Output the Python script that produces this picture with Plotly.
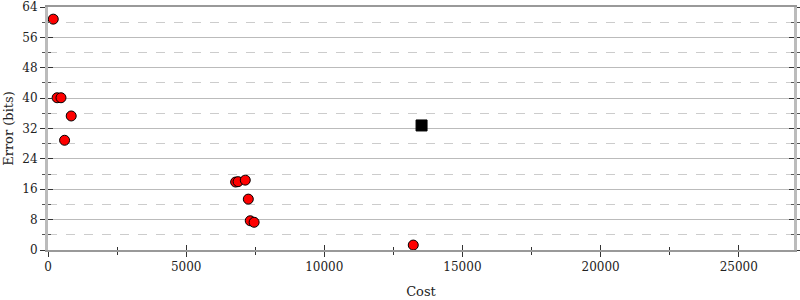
import plotly.graph_objects as go

cost_red = [190, 330, 470, 840, 600, 6790, 6880, 7140, 7250, 7320, 7460, 13220]
err_red = [60.8, 40.1, 40.1, 35.3, 28.9, 17.9, 18.0, 18.4, 13.4, 7.7, 7.3, 1.3]
cost_black = [13520]
err_black = [32.8]

x_tick_step = 5000
y_tick_step = 8

font = dict(family="DejaVu Serif", size=12, color="#222")
tfont = dict(family="DejaVu Serif", size=13, color="#222")

fig = go.Figure()
fig.add_trace(go.Scatter(x=cost_red, y=err_red, mode="markers",
                         marker=dict(color="#ff0000", size=10, line=dict(color="#000", width=1)),
                         showlegend=False))
fig.add_trace(go.Scatter(x=cost_black, y=err_black, mode="markers",
                         marker=dict(color="#000", symbol="square", size=11, line=dict(color="#000", width=1)),
                         showlegend=False))
fig.add_trace(go.Scatter(x=[0], y=[0], xaxis="x2", yaxis="y2", mode="markers",
                         marker=dict(opacity=0), showlegend=False, hoverinfo="skip"))

fig.update_layout(
    width=800, height=300,
    margin=dict(l=48, r=6, t=7, b=50),
    paper_bgcolor="white", plot_bgcolor="white",
    font=font,
    xaxis=dict(range=[0, 27000], tick0=0, dtick=x_tick_step, tickformat="d", showgrid=False, zeroline=False,
               showline=True, linecolor="#999", linewidth=2, mirror=True, automargin=False,
               ticks="outside", ticklen=5, tickcolor="#333", tickwidth=1,
               minor=dict(tick0=0, dtick=x_tick_step / 2, ticks="outside", ticklen=3, tickcolor="#333", showgrid=False),
               title=dict(text="Cost", font=tfont, standoff=13), tickfont=font),
    xaxis2=dict(range=[0, 27000], overlaying="x", side="bottom", tick0=0, dtick=x_tick_step,
                showticklabels=False, showgrid=False, zeroline=False, showline=False,
                ticks="inside", ticklen=5, tickcolor="#333",
                minor=dict(tick0=0, dtick=x_tick_step / 2, ticks="inside", ticklen=3, tickcolor="#333", showgrid=False)),
    yaxis=dict(range=[0, 64], tick0=0, dtick=y_tick_step, showgrid=True, gridcolor="#bbb", gridwidth=1,
               zeroline=False, showline=True, linecolor="#bbb", linewidth=3, mirror="allticks", automargin=False,
               ticks="outside", ticklen=5, tickcolor="#333",
               minor=dict(tick0=0, dtick=y_tick_step / 2, ticks="outside", ticklen=3, tickcolor="#555",
                          showgrid=True, gridcolor="#ccc", griddash="dash", gridwidth=1),
               title=dict(text="Error (bits)", font=tfont, standoff=6), tickfont=font),
    yaxis2=dict(range=[0, 64], overlaying="y", side="left", tick0=0, dtick=y_tick_step,
                showticklabels=False, showgrid=False, zeroline=False, showline=False,
                mirror="allticks", ticks="inside", ticklen=5, tickcolor="#333",
                minor=dict(tick0=0, dtick=y_tick_step / 2, ticks="inside", ticklen=3, tickcolor="#555", showgrid=False)),
)

fig.write_html("out.html")
